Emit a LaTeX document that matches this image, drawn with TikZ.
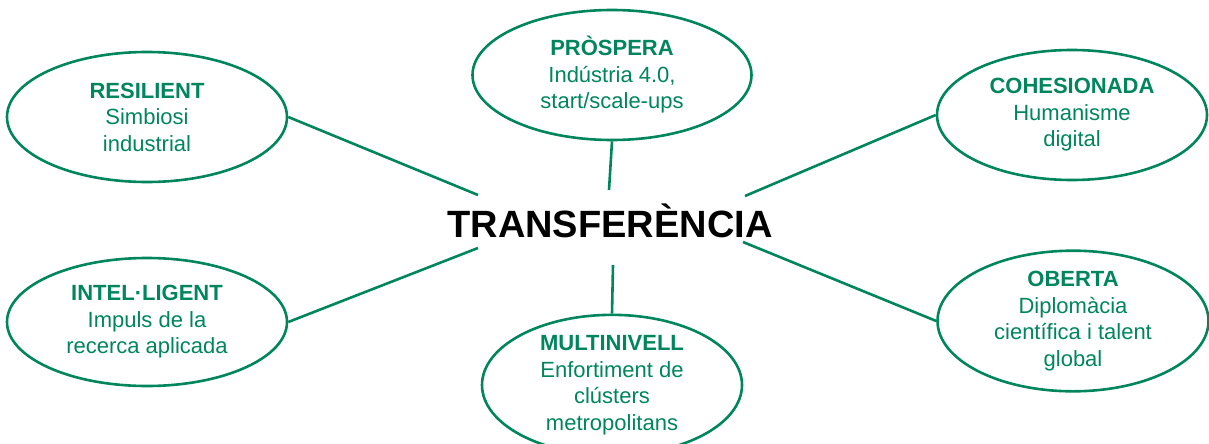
\documentclass[tikz,border=0pt]{standalone}
\usepackage{fontspec}
\setmainfont{Liberation Sans}
\usetikzlibrary{shapes.geometric}
\definecolor{vgreen}{RGB}{0,133,92}
\begin{document}
\begin{tikzpicture}[x=1pt,y=-1pt,
  bub/.style={ellipse, draw=vgreen, line width=2.6pt, inner sep=0pt, text=vgreen,
    align=center, font=\fontsize{22}{26.5}\selectfont},
  link/.style={draw=vgreen, line width=2.6pt}]
\useasboundingbox (0,0) rectangle (1209,444);
\node[bub, minimum width=280pt, minimum height=130pt] (res) at (147,117)
  {\textbf{RESILIENT}\\Simbiosi\\industrial};
\node[bub, minimum width=279pt, minimum height=130pt] (pro) at (612,75)
  {\textbf{PRÒSPERA}\\Indústria 4.0,\\start/scale-ups};
\node[bub, minimum width=270pt, minimum height=130pt] (coh) at (1072,115)
  {\textbf{COHESIONADA}\\Humanisme\\digital};
\node[bub, minimum width=280pt, minimum height=128pt] (int) at (147,322)
  {\textbf{INTEL·LIGENT}\\Impuls de la\\recerca aplicada};
\node[bub, minimum width=260pt, minimum height=130pt] (mul) at (612,385)
  {\textbf{MULTINIVELL}\\Enfortiment de\\clústers\\metropolitans};
\node[bub, minimum width=271pt, minimum height=128pt] (obe) at (1073,321)
  {\textbf{OBERTA}\\Diplomàcia\\científica i talent\\global};
\node[font=\bfseries\fontsize{38}{44}\selectfont] (tr) at (610,221) {TRANSFERÈNCIA};
\coordinate (c1) at (478,195);
\coordinate (c2) at (609,190);
\coordinate (c3) at (745,196);
\coordinate (c4) at (478,248);
\coordinate (c5) at (613,265);
\coordinate (c6) at (743,242);
\draw[link] (res.east) -- (c1);
\draw[link] (pro.south) -- (c2);
\draw[link] (coh.west) -- (c3);
\draw[link] (int.east) -- (c4);
\draw[link] (mul.north) -- (c5);
\draw[link] (obe.west) -- (c6);
\end{tikzpicture}
\end{document}
